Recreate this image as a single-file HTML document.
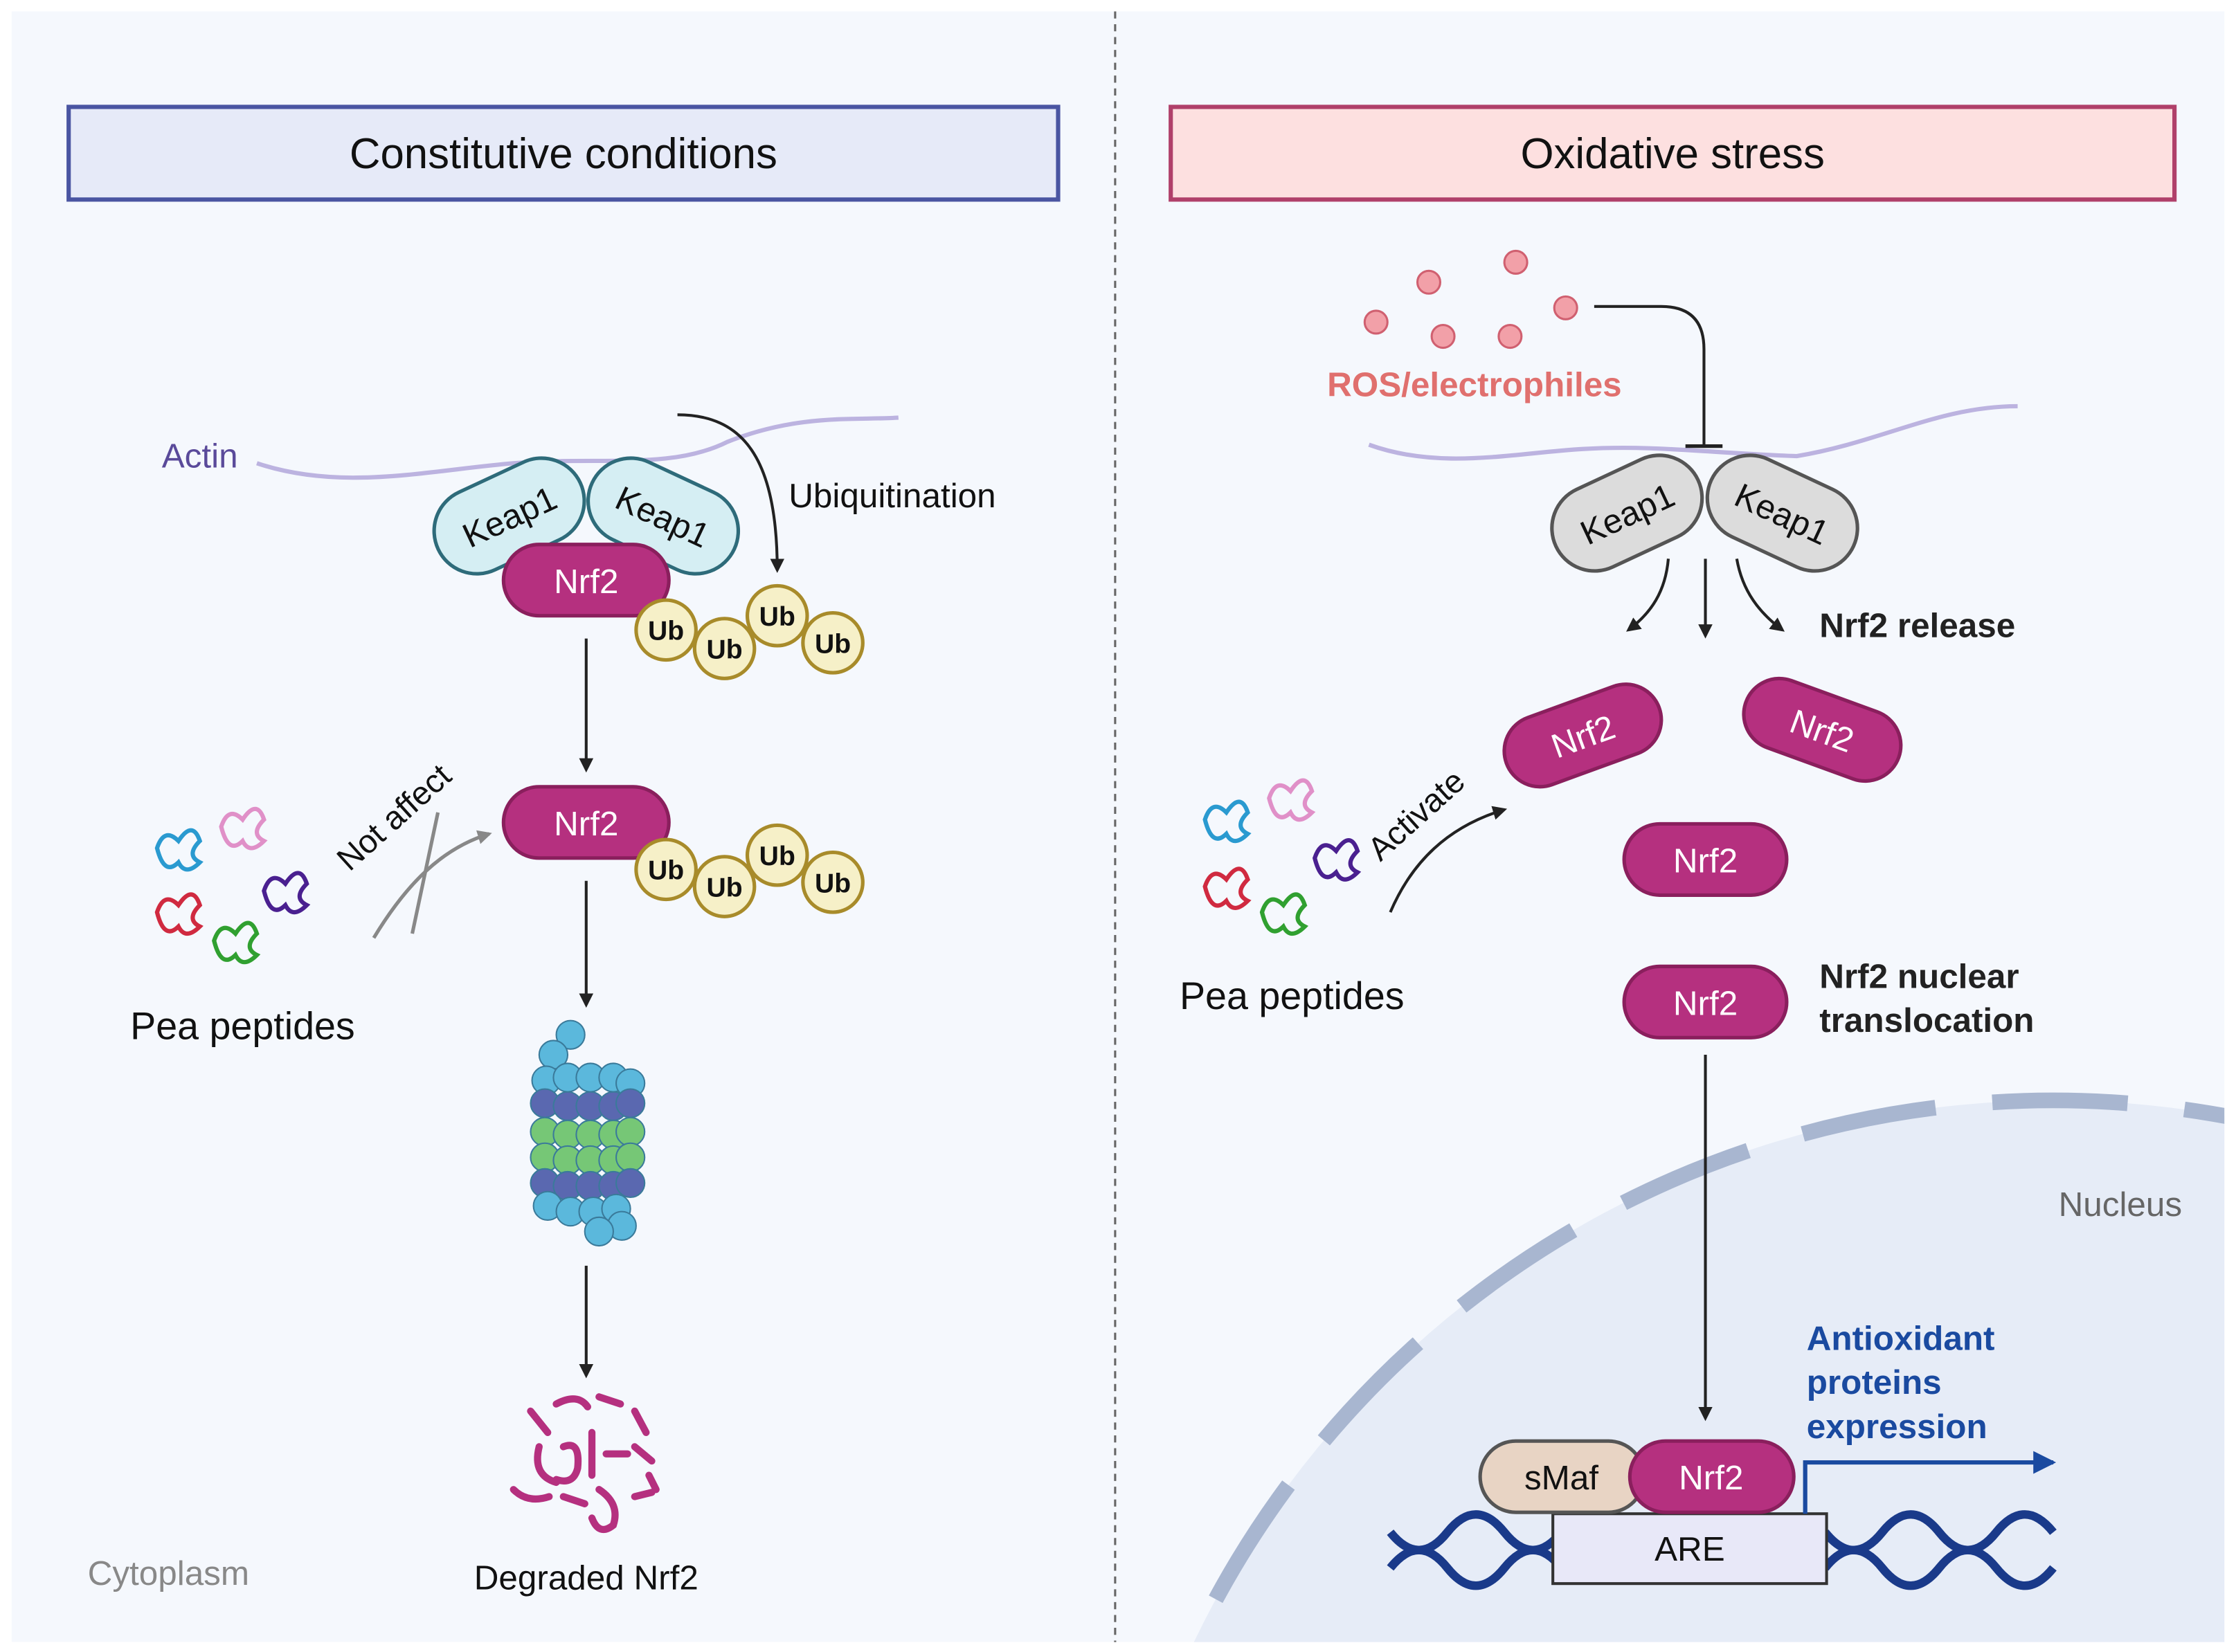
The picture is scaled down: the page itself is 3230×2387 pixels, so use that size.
<!DOCTYPE html>
<html><head><meta charset="utf-8"><style>
html,body{margin:0;padding:0;background:#fff;width:3230px;height:2387px;overflow:hidden}
svg{display:block}
text{font-family:"Liberation Sans",sans-serif}
</style></head><body>
<svg width="3230" height="2387" viewBox="0 0 1568 1159" xmlns="http://www.w3.org/2000/svg">
<defs>
<marker id="ah" markerWidth="10" markerHeight="10" refX="8" refY="5" orient="auto" markerUnits="userSpaceOnUse"><path d="M0,0 L10,5 L0,10 z" fill="#222"/></marker>
<marker id="ahg" markerWidth="10" markerHeight="10" refX="8" refY="5" orient="auto" markerUnits="userSpaceOnUse"><path d="M0,0 L10,5 L0,10 z" fill="#888"/></marker>
<marker id="ahb" markerWidth="16" markerHeight="16" refX="14" refY="8" orient="auto" markerUnits="userSpaceOnUse"><path d="M0,0 L16,8 L0,16 z" fill="#1a4aa0"/></marker>
<clipPath id="pc"><rect x="8" y="8" width="1552" height="1144"/></clipPath>
</defs>
<rect width="1568" height="1159" fill="#fff"/>
<rect x="8" y="8" width="1552" height="1144" fill="#f5f8fd"/>
<line x1="782" y1="8" x2="782" y2="1152" stroke="#666" stroke-width="1.5" stroke-dasharray="5,4"/>

<rect x="48" y="75" width="694" height="65" fill="#e6eaf8" stroke="#4a55a2" stroke-width="3"/>
<text x="395" y="118" font-size="30" text-anchor="middle" fill="#111">Constitutive conditions</text>
<rect x="821" y="75" width="704" height="65" fill="#fde0e0" stroke="#b0406a" stroke-width="3"/>
<text x="1173" y="118" font-size="30" text-anchor="middle" fill="#111">Oxidative stress</text>

<path d="M180,325 C240,345 300,330 360,325 C420,320 470,330 510,310 C560,290 600,295 630,293" fill="none" stroke="#bcb3e0" stroke-width="3"/>
<text x="140" y="328" font-size="24" fill="#5a4a9a" text-anchor="middle">Actin</text>
<g transform="translate(357,362) rotate(-25)"><rect x="-55" y="-30" width="110" height="60" rx="30" fill="#d5eef3" stroke="#2e6b7a" stroke-width="2.5"/><text y="9" font-size="24" text-anchor="middle" fill="#111">Keap1</text></g>
<g transform="translate(465,362) rotate(25)"><rect x="-55" y="-30" width="110" height="60" rx="30" fill="#d5eef3" stroke="#2e6b7a" stroke-width="2.5"/><text y="9" font-size="24" text-anchor="middle" fill="#111">Keap1</text></g>
<rect x="353" y="382" width="116" height="50" rx="25" fill="#b5307f" stroke="#8a1f5d" stroke-width="2.5"/>
<text x="411" y="416" font-size="24" text-anchor="middle" fill="#fff">Nrf2</text>
<g font-size="19" font-weight="bold" text-anchor="middle" fill="#111">
<circle cx="467" cy="442" r="21" fill="#f6f0c8" stroke="#a88b2a" stroke-width="2.5"/><text x="467" y="449">Ub</text>
<circle cx="508" cy="455" r="21" fill="#f6f0c8" stroke="#a88b2a" stroke-width="2.5"/><text x="508" y="462">Ub</text>
<circle cx="545" cy="432" r="21" fill="#f6f0c8" stroke="#a88b2a" stroke-width="2.5"/><text x="545" y="439">Ub</text>
<circle cx="584" cy="451" r="21" fill="#f6f0c8" stroke="#a88b2a" stroke-width="2.5"/><text x="584" y="458">Ub</text>
</g>
<path d="M475,291 C520,291 545,320 545,400" fill="none" stroke="#222" stroke-width="2" marker-end="url(#ah)"/>
<text x="553" y="356" font-size="24" fill="#111">Ubiquitination</text>
<line x1="411" y1="448" x2="411" y2="540" stroke="#222" stroke-width="2" marker-end="url(#ah)"/>
<rect x="353" y="552" width="116" height="50" rx="25" fill="#b5307f" stroke="#8a1f5d" stroke-width="2.5"/>
<text x="411" y="586" font-size="24" text-anchor="middle" fill="#fff">Nrf2</text>
<g font-size="19" font-weight="bold" text-anchor="middle" fill="#111">
<circle cx="467" cy="610" r="21" fill="#f6f0c8" stroke="#a88b2a" stroke-width="2.5"/><text x="467" y="617">Ub</text>
<circle cx="508" cy="622" r="21" fill="#f6f0c8" stroke="#a88b2a" stroke-width="2.5"/><text x="508" y="629">Ub</text>
<circle cx="545" cy="600" r="21" fill="#f6f0c8" stroke="#a88b2a" stroke-width="2.5"/><text x="545" y="607">Ub</text>
<circle cx="584" cy="619" r="21" fill="#f6f0c8" stroke="#a88b2a" stroke-width="2.5"/><text x="584" y="626">Ub</text>
</g>
<line x1="411" y1="618" x2="411" y2="705" stroke="#222" stroke-width="2" marker-end="url(#ah)"/>
<g stroke="#3a7a9a" stroke-width="1">
<circle cx="400" cy="726" r="10" fill="#5bb8dc"/><circle cx="388" cy="740" r="10" fill="#5bb8dc"/>
<g fill="#5bb8dc"><circle cx="383" cy="758" r="10"/><circle cx="398" cy="756" r="10"/><circle cx="414" cy="756" r="10"/><circle cx="430" cy="756" r="10"/><circle cx="442" cy="760" r="10"/></g>
<g fill="#5a68b0"><circle cx="382" cy="774" r="10"/><circle cx="398" cy="776" r="10"/><circle cx="414" cy="776" r="10"/><circle cx="430" cy="776" r="10"/><circle cx="442" cy="774" r="10"/></g>
<g fill="#76c776"><circle cx="382" cy="794" r="10"/><circle cx="398" cy="796" r="10"/><circle cx="414" cy="796" r="10"/><circle cx="430" cy="796" r="10"/><circle cx="442" cy="794" r="10"/>
<circle cx="382" cy="812" r="10"/><circle cx="398" cy="814" r="10"/><circle cx="414" cy="814" r="10"/><circle cx="430" cy="814" r="10"/><circle cx="442" cy="812" r="10"/></g>
<g fill="#5a68b0"><circle cx="382" cy="830" r="10"/><circle cx="398" cy="832" r="10"/><circle cx="414" cy="832" r="10"/><circle cx="430" cy="832" r="10"/><circle cx="442" cy="830" r="10"/></g>
<g fill="#5bb8dc"><circle cx="384" cy="846" r="10"/><circle cx="400" cy="850" r="10"/><circle cx="416" cy="850" r="10"/><circle cx="432" cy="848" r="10"/><circle cx="436" cy="860" r="10"/><circle cx="420" cy="864" r="10"/></g>
</g>
<line x1="411" y1="888" x2="411" y2="965" stroke="#222" stroke-width="2" marker-end="url(#ah)"/>
<g fill="none" stroke="#b5307f" stroke-width="5" stroke-linecap="round">
<path d="M372,990 l12,15"/><path d="M390,985 q15,-8 22,2"/><path d="M420,980 l15,5"/><path d="M445,990 l8,15"/>
<path d="M378,1015 q-5,20 12,25"/><path d="M395,1015 q12,-5 10,15 q-3,12 -15,8"/><path d="M415,1005 l0,30"/><path d="M425,1020 l15,0"/>
<path d="M445,1015 l12,10"/><path d="M360,1045 q10,10 25,5"/><path d="M395,1050 l15,5"/><path d="M420,1045 q15,10 10,25 q-10,8 -15,-5"/><path d="M445,1050 l12,-3"/><path d="M455,1035 l5,10"/>
</g>
<text x="411" y="1115" font-size="24" text-anchor="middle" fill="#111">Degraded Nrf2</text>
<text x="118" y="1112" font-size="24" text-anchor="middle" fill="#888">Cytoplasm</text>
<g fill="none" stroke-width="3" stroke-linecap="round">
<path d="M110,595 q5,-15 15,-5 q10,-15 15,0 q-10,10 0,15 q-10,10 -15,0 q-10,10 -15,-10 z" stroke="#2a9ad0"/>
<path d="M155,580 q5,-15 15,-5 q10,-15 15,0 q-10,10 0,15 q-10,10 -15,0 q-10,10 -15,-10 z" stroke="#e090c8"/>
<path d="M110,640 q5,-15 15,-5 q10,-15 15,0 q-10,10 0,15 q-10,10 -15,0 q-10,10 -15,-10 z" stroke="#d02a40"/>
<path d="M185,625 q5,-15 15,-5 q10,-15 15,0 q-10,10 0,15 q-10,10 -15,0 q-10,10 -15,-10 z" stroke="#4a2090"/>
<path d="M150,660 q5,-15 15,-5 q10,-15 15,0 q-10,10 0,15 q-10,10 -15,0 q-10,10 -15,-10 z" stroke="#30a030"/>
</g>
<text x="170" y="729" font-size="27" text-anchor="middle" fill="#111">Pea peptides</text>
<path d="M262,658 C285,620 310,595 343,585" fill="none" stroke="#888" stroke-width="2.5" marker-end="url(#ahg)"/>
<line x1="307" y1="570" x2="289" y2="655" stroke="#888" stroke-width="2.5"/>
<text transform="translate(245,612) rotate(-42)" font-size="23" fill="#111">Not affect</text>

<g clip-path="url(#pc)">
<circle cx="1440" cy="1440" r="668" fill="#e6ecf7" stroke="#a8b6d0" stroke-width="11" stroke-dasharray="95,40"/>
</g>
<text x="1487" y="853" font-size="24" text-anchor="middle" fill="#666">Nucleus</text>
<g fill="#f2a0a8" stroke="#d06070" stroke-width="1.5">
<circle cx="965" cy="226" r="8"/><circle cx="1002" cy="198" r="8"/><circle cx="1063" cy="184" r="8"/><circle cx="1098" cy="216" r="8"/><circle cx="1012" cy="236" r="8"/><circle cx="1059" cy="236" r="8"/>
</g>
<text x="1034" y="278" font-size="24" font-weight="bold" text-anchor="middle" fill="#e0706e">ROS/electrophiles</text>
<path d="M960,312 C1010,330 1060,318 1110,315 C1160,312 1200,318 1260,320 C1320,310 1360,285 1415,285" fill="none" stroke="#bcb3e0" stroke-width="3"/>
<path d="M1118,215 H1165 Q1195,215 1195,245 V313" fill="none" stroke="#222" stroke-width="2"/>
<line x1="1182" y1="313" x2="1208" y2="313" stroke="#222" stroke-width="2.5"/>
<g transform="translate(1141,360) rotate(-25)"><rect x="-55" y="-30" width="110" height="60" rx="30" fill="#dcdcdc" stroke="#555" stroke-width="2.5"/><text y="9" font-size="24" text-anchor="middle" fill="#111">Keap1</text></g>
<g transform="translate(1250,360) rotate(25)"><rect x="-55" y="-30" width="110" height="60" rx="30" fill="#dcdcdc" stroke="#555" stroke-width="2.5"/><text y="9" font-size="24" text-anchor="middle" fill="#111">Keap1</text></g>
<path d="M1170,392 C1168,415 1158,430 1142,442" fill="none" stroke="#222" stroke-width="2" marker-end="url(#ah)"/>
<line x1="1196" y1="392" x2="1196" y2="446" stroke="#222" stroke-width="2" marker-end="url(#ah)"/>
<path d="M1218,392 C1222,415 1234,430 1250,442" fill="none" stroke="#222" stroke-width="2" marker-end="url(#ah)"/>
<text x="1276" y="447" font-size="24" font-weight="bold" fill="#222">Nrf2 release</text>
<g transform="translate(1110,516) rotate(-20)"><rect x="-57" y="-25" width="114" height="50" rx="25" fill="#b5307f" stroke="#8a1f5d" stroke-width="2.5"/><text y="9" font-size="24" text-anchor="middle" fill="#fff">Nrf2</text></g>
<g transform="translate(1278,512) rotate(20)"><rect x="-57" y="-25" width="114" height="50" rx="25" fill="#b5307f" stroke="#8a1f5d" stroke-width="2.5"/><text y="9" font-size="24" text-anchor="middle" fill="#fff">Nrf2</text></g>
<rect x="1139" y="578" width="114" height="50" rx="25" fill="#b5307f" stroke="#8a1f5d" stroke-width="2.5"/>
<text x="1196" y="612" font-size="24" text-anchor="middle" fill="#fff">Nrf2</text>
<rect x="1139" y="678" width="114" height="50" rx="25" fill="#b5307f" stroke="#8a1f5d" stroke-width="2.5"/>
<text x="1196" y="712" font-size="24" text-anchor="middle" fill="#fff">Nrf2</text>
<text x="1276" y="693" font-size="24" font-weight="bold" fill="#222">Nrf2 nuclear</text>
<text x="1276" y="724" font-size="24" font-weight="bold" fill="#222">translocation</text>
<g fill="none" stroke-width="3" stroke-linecap="round">
<path d="M845,575 q5,-15 15,-5 q10,-15 15,0 q-10,10 0,15 q-10,10 -15,0 q-10,10 -15,-10 z" stroke="#2a9ad0"/>
<path d="M890,560 q5,-15 15,-5 q10,-15 15,0 q-10,10 0,15 q-10,10 -15,0 q-10,10 -15,-10 z" stroke="#e090c8"/>
<path d="M845,622 q5,-15 15,-5 q10,-15 15,0 q-10,10 0,15 q-10,10 -15,0 q-10,10 -15,-10 z" stroke="#d02a40"/>
<path d="M922,602 q5,-15 15,-5 q10,-15 15,0 q-10,10 0,15 q-10,10 -15,0 q-10,10 -15,-10 z" stroke="#4a2090"/>
<path d="M885,640 q5,-15 15,-5 q10,-15 15,0 q-10,10 0,15 q-10,10 -15,0 q-10,10 -15,-10 z" stroke="#30a030"/>
</g>
<text x="906" y="708" font-size="27" text-anchor="middle" fill="#111">Pea peptides</text>
<path d="M975,640 C990,605 1015,580 1055,568" fill="none" stroke="#222" stroke-width="2" marker-end="url(#ah)"/>
<text transform="translate(968,605) rotate(-42)" font-size="23" fill="#111">Activate</text>
<line x1="1196" y1="740" x2="1196" y2="995" stroke="#222" stroke-width="2" marker-end="url(#ah)"/>
<g fill="none" stroke="#1a3a8a" stroke-width="6">
<path d="M975,1075 q20,25 40,0 t40,0 t40,0"/><path d="M975,1100 q20,-25 40,0 t40,0 t40,0"/>
<path d="M1280,1075 q20,25 40,0 t40,0 t40,0 t40,0"/><path d="M1280,1100 q20,-25 40,0 t40,0 t40,0 t40,0"/>
</g>
<rect x="1089" y="1062" width="192" height="49" fill="#e8e8f8" stroke="#333" stroke-width="2"/>
<text x="1185" y="1095" font-size="24" text-anchor="middle" fill="#111">ARE</text>
<rect x="1038" y="1011" width="115" height="50" rx="25" fill="#e8d4c4" stroke="#555" stroke-width="2.5"/>
<text x="1095" y="1045" font-size="24" text-anchor="middle" fill="#111">sMaf</text>
<rect x="1143" y="1011" width="115" height="50" rx="25" fill="#b5307f" stroke="#8a1f5d" stroke-width="2.5"/>
<text x="1200" y="1045" font-size="24" text-anchor="middle" fill="#fff">Nrf2</text>
<path d="M1266,1062 V1026 H1440" fill="none" stroke="#1a4aa0" stroke-width="3" marker-end="url(#ahb)"/>
<g font-size="24" font-weight="bold" fill="#1a4aa0">
<text x="1267" y="947">Antioxidant</text><text x="1267" y="978">proteins</text><text x="1267" y="1009">expression</text>
</g>
</svg>
</body></html>
